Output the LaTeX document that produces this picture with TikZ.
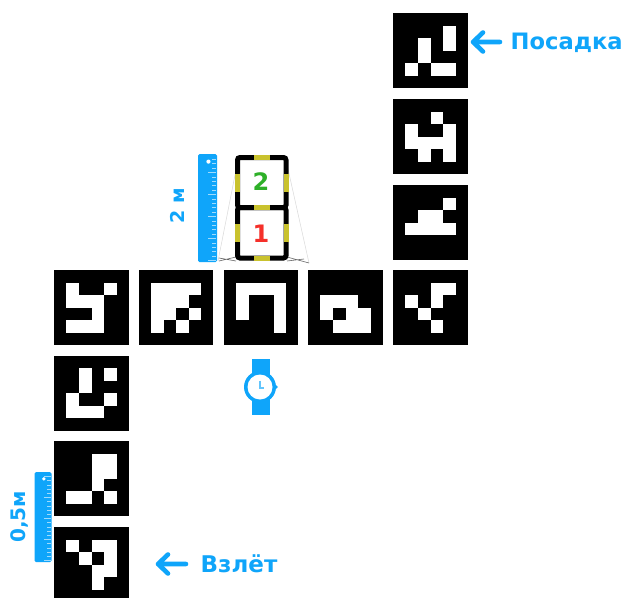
\documentclass[tikz,border=0pt]{standalone}
\usepackage{fontspec}
\setmainfont{DejaVu Sans}
\definecolor{skyb}{HTML}{0FA5FA}
\definecolor{padyel}{HTML}{C9C22E}
\tikzset{
  x=1pt,y=-1pt,
  bluelabel/.style={text=skyb,font=\bfseries\fontsize{#1}{#1}\selectfont,inner sep=0pt},
  digit/.style={font=\bfseries\fontsize{24}{24}\selectfont,inner sep=0pt},
  bluearrow/.style={draw=skyb,line width=4.6pt,line cap=round,line join=round},
  pad/.style={draw=padyel,line width=5pt},
  frame/.style={draw=black,line width=5pt,rounded corners=2.5pt},
  persp/.style={draw=black!15,line width=0.5pt},
  perspdark/.style={draw=black!60,line width=0.6pt},
  tick/.style={draw=white,draw opacity=0.6,line width=0.6pt}
}
% \marker{left}{top}{16 bits row by row}
\newcommand{\marker}[3]{%
  \fill[black] (#1,#2) rectangle ++(74.5,75);
  \foreach \b [count=\i from 0] in {#3}{%
    \pgfmathtruncatemacro{\cc}{mod(\i,4)}%
    \pgfmathtruncatemacro{\rr}{int(\i/4)}%
    \ifnum\b=1
      \fill[white] ({#1+12.4+12.6*\cc},{#2+12.5+12.6*\rr}) rectangle ++(12.6,12.6);
    \fi
  }%
}
% \ruler{left}{top}{width}{height}{tick spacing}
\newcommand{\ruler}[5]{%
  \fill[skyb,rounded corners=1.5pt] (#1,#2) rectangle ++(#3,#4);
  \pgfmathsetmacro{\rx}{#1+#3}%
  \pgfmathsetmacro{\rb}{#2+#4-1.5}%
  \pgfmathtruncatemacro{\nt}{int((#4-3)/#5)}%
  \foreach \k in {0,...,\nt}{%
    \pgfmathsetmacro{\ty}{\rb-\k*#5}%
    \pgfmathsetmacro{\tl}{ifthenelse(mod(\k,5)==0,0.4,0.2)*#3}%
    \draw[tick] (\rx-1,\ty) -- ++(-\tl,0);
  }
  \fill[white] ({#1+#3*0.55},{#2+#3*0.4}) circle[radius=#3*0.11];
}
\begin{document}
\begin{tikzpicture}
\useasboundingbox (0,0) rectangle (625,598);
\clip (0,0) rectangle (625,598);
\fill[white] (0,0) rectangle (625,598);
% landing column
\marker{393}{13}{0,0,0,1, 0,1,0,1, 0,1,0,0, 1,0,1,1}
\marker{393}{99}{0,0,1,0, 1,0,0,1, 1,1,1,1, 0,1,0,1}
\marker{393}{185}{0,0,0,1, 0,1,1,0, 1,1,1,1, 0,0,0,0}
% row
\marker{54}{270}{1,0,0,1, 1,1,1,0, 0,0,1,0, 1,1,1,0}
\marker{138.5}{270}{1,1,1,1, 1,1,1,0, 1,1,0,1, 1,0,1,0}
\marker{223.5}{270}{1,1,1,1, 1,0,0,1, 1,0,0,1, 0,0,0,1}
\marker{308}{270}{0,0,0,0, 1,1,1,0, 1,0,1,1, 0,1,1,1}
\marker{393}{270}{0,0,1,1, 1,0,1,0, 0,1,0,0, 0,0,1,0}
% take-off column
\marker{54}{355.5}{0,1,0,1, 0,1,0,0, 1,0,0,1, 1,1,1,0}
\marker{54}{441}{0,0,1,1, 0,0,1,1, 0,0,1,0, 1,1,0,1}
\marker{54}{527}{1,0,1,1, 0,1,0,1, 0,0,1,1, 0,0,1,0}
% perspective lines
\draw[persp] (238,160) -- (218,261);
\draw[persp] (286,160) -- (309,263);
\draw[perspdark] (219,261) -- (236,257) (219,258) -- (236,261);
\draw[perspdark] (287,257) -- (309,263) (287,261) -- (304,259);
% drone frame
\draw[frame] (237.5,157.5) rectangle (286,207.5);
\draw[frame] (237.5,207.5) rectangle (286,258);
\foreach \cy in {182.5,233}{
  \draw[pad] (237.5,\cy-9) -- (237.5,\cy+9);
  \draw[pad] (286,\cy-9) -- (286,\cy+9);
}
\foreach \cy in {157.5,207.5,258}{
  \draw[pad] (254,\cy) -- (270,\cy);
}
\node[digit,text={rgb,255:red,46;green,176;blue,40}] (two) at (261,181.5) {2};
\node[digit,text={rgb,255:red,245;green,48;blue,42}] (one) at (261,234) {1};
% rulers
\ruler{198}{154}{19}{108}{4.4}
\ruler{34.5}{472}{17}{90}{4.2}
\node[bluelabel=19,rotate=90] (twom) at (177,206) {2 м};
\node[bluelabel=20,rotate=90] (halfm) at (19,517) {0,5м};
% watch
\fill[skyb] (251.5,359) rectangle (269.5,415);
\fill[skyb] (276,387) circle[radius=1.8];
\fill[skyb] (260,387) circle[radius=16];
\fill[white] (260,387) circle[radius=12.5];
\draw[skyb!65,line width=1.2pt] (260,380.5) -- (260,388) -- (264,388);
% labels and arrows
\node[bluelabel=22.6,anchor=west] (landing) at (510.5,43) {Посадка};
\node[bluelabel=23,anchor=west] (takeoff) at (200.5,564) {Взлёт};
\coordinate (la) at (473,42);
\coordinate (lb) at (500,42);
\coordinate (ta) at (158,564);
\coordinate (tb) at (186,564);
\draw[bluearrow] (lb) -- (la) (la) ++(10,-9.5) -- (la) -- ++(10,9.5);
\draw[bluearrow] (tb) -- (ta) (ta) ++(10,-9.5) -- (ta) -- ++(10,9.5);
\end{tikzpicture}
\end{document}
